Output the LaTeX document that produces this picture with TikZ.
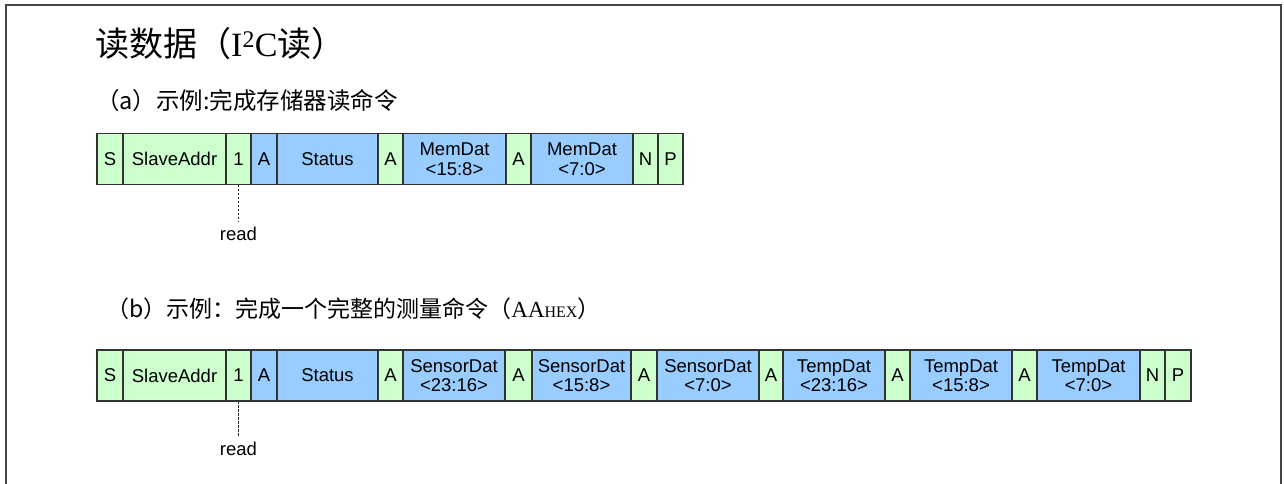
\documentclass[tikz,border=0pt]{standalone}
\usepackage{fontspec}
\setmainfont{Liberation Serif}
\setsansfont{Liberation Sans}
\newfontfamily\cjk{Noto Sans CJK SC}
\definecolor{fgreen}{HTML}{CCFFCC}
\definecolor{fblue}{HTML}{99CCFF}
\definecolor{edge}{HTML}{333333}
\definecolor{framec}{HTML}{444444}
\tikzset{
  segbox/.style={draw=edge, line width=1.5pt, inner sep=0pt, outer sep=0pt,
    anchor=west, align=center, minimum height=51pt,
    font=\sffamily\fontsize{18.5}{19.5}\selectfont, text=black},
  gbox/.style={segbox, fill=fgreen},
  bbox/.style={segbox, fill=fblue},
  readline/.style={draw=black!85, line width=1.1pt, dash pattern=on 2.5pt off 1.5pt},
  readlbl/.style={font=\sffamily\fontsize{18.5}{20}\selectfont, text=black, inner sep=0pt},
  framel/.style={draw=framec, line width=2pt}
}
\newcommand\seg[5]{\node[#4, minimum width={(#3-#2)*1pt}] (#1) at (#2,\rowy) {#5};}
\begin{document}
\begin{tikzpicture}[x=1pt,y=-1pt]
\useasboundingbox (0,0) rectangle (1284,484);
% frame
\draw[framel] (6,490) -- (6,5) -- (1281,5) -- (1281,490);
% title
\node[anchor=west, inner sep=0pt, font=\fontsize{34}{38}\selectfont] (title) at (95,44)
  {{\cjk 读数据（}I\textsuperscript{2}C{\cjk 读）}};
\node[anchor=west, inner sep=0pt, font=\cjk\fontsize{23.5}{26}\selectfont] (suba) at (96,101)
  {（a）示例:完成存储器读命令};
\node[anchor=west, inner sep=0pt, font=\fontsize{23}{26}\selectfont] (subb) at (106,309)
  {{\cjk （b）示例：完成一个完整的测量命令（}AA{\fontsize{16}{18}\selectfont HEX}{\cjk ）}};
% row a
\def\rowy{159}
\seg{aS}{97}{123}{gbox}{S}
\seg{aAddr}{123}{226}{gbox}{SlaveAddr}
\seg{aOne}{226}{251}{gbox}{1}
\seg{aA1}{251}{277}{bbox}{A}
\seg{aStat}{277}{378}{bbox}{Status}
\seg{aA2}{378}{403}{gbox}{A}
\seg{aM1}{403}{506}{bbox}{MemDat\\{<}15:8{>}}
\seg{aA3}{506}{531}{gbox}{A}
\seg{aM2}{531}{633}{bbox}{MemDat\\{<}7:0{>}}
\seg{aN}{633}{658}{gbox}{N}
\seg{aP}{658}{683}{gbox}{P}
\coordinate (aEnd) at (238.5,221);
\draw[readline] (aOne.south) -- (aEnd);
\node[readlbl, anchor=north] (aRead) at (238.5,227) {read};
% row b
\def\rowy{375.5}
\seg{bS}{97}{123}{gbox}{S}
\seg{bAddr}{123}{226}{gbox}{SlaveAddr}
\seg{bOne}{226}{251}{gbox}{1}
\seg{bA1}{251}{277}{bbox}{A}
\seg{bStat}{277}{378}{bbox}{Status}
\seg{bA2}{378}{403}{gbox}{A}
\seg{bS1}{403}{505}{bbox}{SensorDat\\{<}23:16{>}}
\seg{bA3}{505}{532}{gbox}{A}
\seg{bS2}{532}{631}{bbox}{SensorDat\\{<}15:8{>}}
\seg{bA4}{631}{657}{gbox}{A}
\seg{bS3}{657}{759}{bbox}{SensorDat\\{<}7:0{>}}
\seg{bA5}{759}{783}{gbox}{A}
\seg{bT1}{783}{885}{bbox}{TempDat\\{<}23:16{>}}
\seg{bA6}{885}{910}{gbox}{A}
\seg{bT2}{910}{1012}{bbox}{TempDat\\{<}15:8{>}}
\seg{bA7}{1012}{1037}{gbox}{A}
\seg{bT3}{1037}{1140}{bbox}{TempDat\\{<}7:0{>}}
\seg{bN}{1140}{1165}{gbox}{N}
\seg{bP}{1165}{1191}{gbox}{P}
\coordinate (bEnd) at (238.5,437);
\draw[readline] (bOne.south) -- (bEnd);
\node[readlbl, anchor=north] (bRead) at (238.5,442) {read};
\end{tikzpicture}
\end{document}
